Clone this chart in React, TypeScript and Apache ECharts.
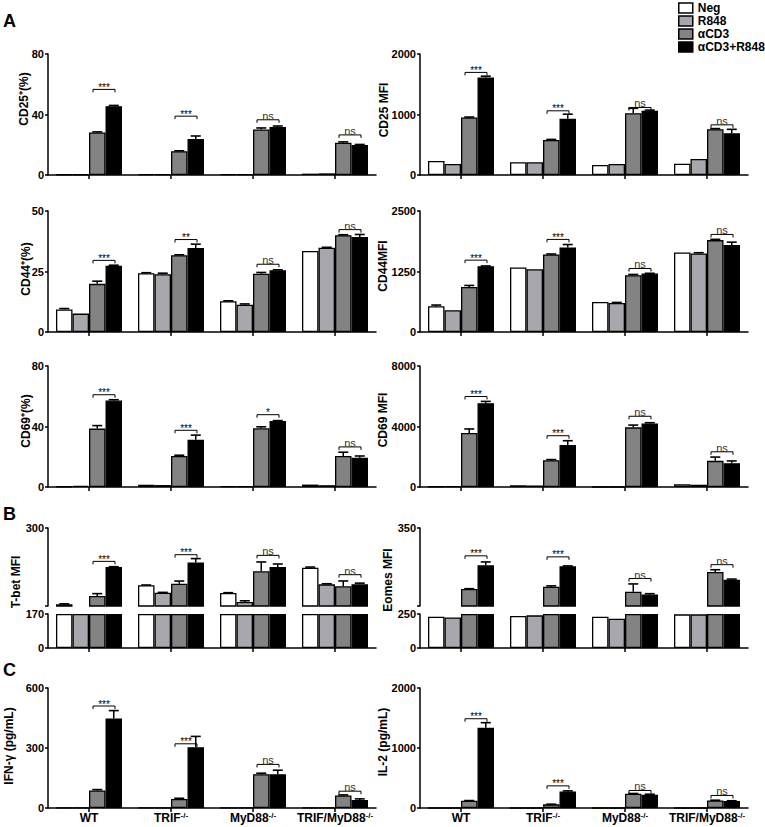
import React, { useEffect, useRef } from 'react';
import * as echarts from 'echarts';

const FONT = '"Liberation Sans", Arial, Helvetica, sans-serif';

const CATEGORIES = ['WT', 'TRIF-/-', 'MyD88-/-', 'TRIF/MyD88-/-'];
const TREATMENTS = ['Neg', 'R848', 'αCD3', 'αCD3+R848'];
const COLORS = ['#ffffff', '#a7a7ad', '#838383', '#000000'];

// Each panel: rows = [Neg, R848, αCD3, αCD3+R848], columns = CATEGORIES
const CD25_PCT = [
  [0.3, 0.6, 0.4, 0.9],
  [0.3, 0.4, 0.6, 1.1],
  [28.1, 15.7, 30.1, 21.3],
  [45.5, 23.8, 31.8, 19.8],
];
const CD25_PCT_ERR = [[0, 0, 0, 0], [0, 0, 0, 0], [0.4, 0.3, 1.0, 0.6], [0.5, 2.0, 0.6, 0.4]];
const CD25_PCT_SIG = [56.6, 38.9, 36.5, 26.5];
const CD25_PCT_SIG_TXT = ['***', '***', 'ns', 'ns'];

const CD25_MFI = [
  [232, 210, 166, 188],
  [182, 210, 182, 265],
  [950, 580, 1022, 757],
  [1613, 928, 1061, 690],
];
const CD25_MFI_ERR = [[0, 0, 0, 0], [0, 0, 0, 0], [8, 8, 80, 10], [20, 77, 12, 65]];
const CD25_MFI_SIG = [1696, 1061, 1116, 829];
const CD25_MFI_SIG_TXT = ['***', '***', 'ns', 'ns'];

const CD44_PCT = [
  [9.3, 24.3, 12.7, 33.5],
  [7.6, 23.9, 11.3, 34.8],
  [19.9, 31.7, 24.1, 40.0],
  [27.4, 34.7, 25.5, 39.3],
];
const CD44_PCT_ERR = [[0.4, 0.2, 0.2, 0], [0, 0.4, 0.3, 0.2], [1.1, 0.2, 0.5, 0.2], [0.2, 1.6, 0.2, 1.0]];
const CD44_PCT_SIG = [29.6, 38.2, 28.0, 42.3];
const CD44_PCT_SIG_TXT = ['***', '**', 'ns', 'ns'];

const CD44_MFI = [
  [532, 1333, 622, 1644],
  [449, 1298, 601, 1623],
  [932, 1602, 1174, 1899],
  [1360, 1747, 1208, 1796],
];
const CD44_MFI_ERR = [[25, 0, 0, 0], [0, 0, 10, 15], [30, 10, 15, 15], [5, 60, 5, 60]];
const CD44_MFI_SIG = [1485, 1913, 1312, 2016];
const CD44_MFI_SIG_TXT = ['***', '***', 'ns', 'ns'];

const CD69_PCT = [
  [0.3, 1.5, 0.4, 1.6],
  [0.8, 1.3, 0.4, 1.2],
  [38.6, 20.5, 38.8, 20.5],
  [57.2, 31.3, 43.6, 19.3],
];
const CD69_PCT_ERR = [[0, 0, 0, 0], [0, 0, 0, 0], [2, 0.5, 1, 2.5], [0.5, 3, 0.3, 1.2]];
const CD69_PCT_SIG = [61, 37.5, 47.8, 26.5];
const CD69_PCT_SIG_TXT = ['***', '***', '*', 'ns'];

const CD69_MFI = [
  [30, 120, 0, 180],
  [40, 100, 0, 150],
  [3568, 1773, 3944, 1728],
  [5540, 2770, 4200, 1573],
];
const CD69_MFI_ERR = [[0, 0, 0, 0], [0, 0, 0, 0], [270, 40, 150, 250], [120, 290, 50, 150]];
const CD69_MFI_SIG = [5983, 3390, 4676, 2327];
const CD69_MFI_SIG_TXT = ['***', '***', 'ns', 'ns'];

const TBET_MFI = [
  [172.8, 204.5, 191.7, 233.9],
  [170, 192.2, 176.7, 206.1],
  [186.7, 207.2, 227.8, 202.8],
  [235, 242.3, 235, 206.1],
];
const TBET_MFI_ERR = [[0.8, 0.5, 0.5, 1], [0, 0.5, 2, 1], [3.9, 4.4, 15.6, 8.9], [0.5, 6.7, 5, 2]];
const TBET_MFI_SIG = [244.4, 255.5, 254.4, 222.2];
const TBET_MFI_SIG_TXT = ['***', '***', 'ns', 'ns'];

const EOMES_MFI = [
  [230, 235, 230, 247.5],
  [225, 240, 215, 247.5],
  [271.7, 274.8, 268.3, 293.5],
  [302.2, 300.9, 264.8, 283.5],
];
const EOMES_MFI_ERR = [[0, 0, 0, 0], [0, 0, 0, 0], [0.5, 1, 10, 3], [4.3, 0.5, 1, 1]];
const EOMES_MFI_SIG = [314.3, 313, 285.2, 303];
const EOMES_MFI_SIG_TXT = ['***', '***', 'ns', 'ns'];

const IFNG = [
  [2, 2, 1, 2],
  [2, 2, 1, 2],
  [88, 45.6, 169, 62.5],
  [448, 304, 169, 40.6],
];
const IFNG_ERR = [[0, 0, 0, 0], [0, 0, 0, 0], [4, 3, 5, 3], [39, 54, 20, 5]];
const IFNG_SIG = [510, 321, 218, 84];
const IFNG_SIG_TXT = ['***', '***', 'ns', 'ns'];

const IL2 = [
  [0, 0, 0, 0],
  [0, 0, 0, 0],
  [121, 60.6, 237, 127],
  [1339, 275.5, 220, 116],
];
const IL2_ERR = [[0, 0, 0, 0], [0, 0, 0, 0], [3, 3, 5, 3], [83, 10, 10, 5]];
const IL2_SIG = [1488, 369, 292, 209];
const IL2_SIG_TXT = ['***', '***', 'ns', 'ns'];

// ---------- layout ----------
const PANEL_W = 328;
const COL_LEFT = [48, 420];
const BW = 16.5;
const ROWS: any[] = [
  { top: 54, h: 121 },
  { top: 211, h: 121 },
  { top: 366, h: 121 },
  { brk: true, upTop: 528, upH: 78, loTop: 614, loH: 34 },
  { top: 688, h: 120 },
];

const PANELS: any[] = [
  { row: 0, col: 0, name: 'CD25⁺(%)', nx: 24, ny: 99, max: 80, interval: 40, v: CD25_PCT, e: CD25_PCT_ERR, s: CD25_PCT_SIG, t: CD25_PCT_SIG_TXT },
  { row: 0, col: 1, name: 'CD25 MFI', nx: 384, ny: 110, max: 2000, interval: 1000, v: CD25_MFI, e: CD25_MFI_ERR, s: CD25_MFI_SIG, t: CD25_MFI_SIG_TXT },
  { row: 1, col: 0, name: 'CD44⁺(%)', nx: 26, ny: 269, max: 50, interval: 25, v: CD44_PCT, e: CD44_PCT_ERR, s: CD44_PCT_SIG, t: CD44_PCT_SIG_TXT },
  { row: 1, col: 1, name: 'CD44MFI', nx: 383, ny: 266, max: 2500, interval: 1250, v: CD44_MFI, e: CD44_MFI_ERR, s: CD44_MFI_SIG, t: CD44_MFI_SIG_TXT },
  { row: 2, col: 0, name: 'CD69⁺(%)', nx: 26, ny: 421, max: 80, interval: 40, v: CD69_PCT, e: CD69_PCT_ERR, s: CD69_PCT_SIG, t: CD69_PCT_SIG_TXT },
  { row: 2, col: 1, name: 'CD69 MFI', nx: 383, ny: 420, max: 8000, interval: 4000, v: CD69_MFI, e: CD69_MFI_ERR, s: CD69_MFI_SIG, t: CD69_MFI_SIG_TXT },
  { row: 3, col: 0, name: 'T-bet MFI', nx: 16, ny: 582, brkAt: 170, max: 300, v: TBET_MFI, e: TBET_MFI_ERR, s: TBET_MFI_SIG, t: TBET_MFI_SIG_TXT },
  { row: 3, col: 1, name: 'Eomes MFI', nx: 388, ny: 580, brkAt: 250, max: 350, v: EOMES_MFI, e: EOMES_MFI_ERR, s: EOMES_MFI_SIG, t: EOMES_MFI_SIG_TXT },
  { row: 4, col: 0, name: 'IFN-γ (pg/mL)', nx: 9, ny: 746, max: 600, interval: 300, v: IFNG, e: IFNG_ERR, s: IFNG_SIG, t: IFNG_SIG_TXT, labels: true },
  { row: 4, col: 1, name: 'IL-2 (pg/mL)', nx: 383, ny: 742, max: 2000, interval: 1000, v: IL2, e: IL2_ERR, s: IL2_SIG, t: IL2_SIG_TXT, labels: true },
];

const LINE = { color: '#000', width: 1.5 };

function renderErr(params: any, api: any) {
  const cat = api.value(0);
  const si = api.value(1);
  const v = api.value(2);
  const e = api.value(3);
  const base = api.coord([cat, v]);
  const top = api.coord([cat, v + e]);
  const x = base[0] + (si - 1.5) * BW;
  return {
    type: 'group',
    children: [
      { type: 'line', shape: { x1: x, y1: base[1], x2: x, y2: top[1] }, style: { stroke: '#000', lineWidth: 1.5 } },
      { type: 'line', shape: { x1: x - 5, y1: top[1], x2: x + 5, y2: top[1] }, style: { stroke: '#000', lineWidth: 1.6 } },
    ],
  };
}

function makeBracketRenderer(labels: string[]) {
  return (params: any, api: any) => {
    const cat = api.value(0);
    const y = api.value(1);
    const lab = labels[params.dataIndex];
    const p = api.coord([cat, y]);
    const x1 = p[0] + 4;
    const x2 = p[0] + 26;
    const yy = p[1];
    const star = lab.indexOf('*') >= 0;
    return {
      type: 'group',
      children: [
        {
          type: 'polyline',
          shape: { points: [[x1, yy + 3], [x1, yy], [x2, yy], [x2, yy + 3]] },
          style: { stroke: '#000', fill: null, lineWidth: 1 },
        },
        {
          type: 'text',
          x: (x1 + x2) / 2,
          y: star ? yy - 7 : yy + 1.5,
          style: {
            text: lab,
            align: 'center',
            verticalAlign: star ? 'top' : 'bottom',
            fontSize: star ? 10 : 11,
            fontFamily: FONT,
            fill: star ? '#000' : '#333',
            stroke: null,
          },
        },
      ],
    };
  };
}

function xLabelFormatter(v: string) {
  const m = v.match(/^(.*?)(-\/-)$/);
  return m ? `{a|${m[1]}}{s|${m[2]}}` : `{a|${v}}`;
}

function buildOption() {
  const grid: any[] = [];
  const xAxis: any[] = [];
  const yAxis: any[] = [];
  const series: any[] = [];
  const graphic: any[] = [];

  const addGrid = (left: number, top: number, height: number) => {
    grid.push({ left, top, width: PANEL_W, height, containLabel: false });
    return grid.length - 1;
  };
  const addX = (gi: number, show: boolean, labels: boolean) => {
    xAxis.push({
      gridIndex: gi,
      type: 'category',
      data: CATEGORIES,
      show,
      axisLine: { show: true, lineStyle: LINE },
      axisTick: { show: true, alignWithLabel: true, length: 4, lineStyle: LINE },
      axisLabel: {
        show: labels,
        interval: 0,
        margin: 3,
        formatter: xLabelFormatter,
        rich: {
          a: { fontSize: 12, fontWeight: 'bold', fontFamily: FONT, color: '#000', lineHeight: 14 },
          s: { fontSize: 8, fontWeight: 'bold', fontFamily: FONT, color: '#000', lineHeight: 9, verticalAlign: 'top' },
        },
      },
      splitLine: { show: false },
    });
    return xAxis.length - 1;
  };
  const addY = (gi: number, min: number, max: number, interval: number, showLabel?: (v: number) => boolean) => {
    yAxis.push({
      gridIndex: gi,
      type: 'value',
      min,
      max,
      interval,
      axisLine: { show: true, lineStyle: LINE },
      axisTick: { show: true, length: 3, lineStyle: LINE },
      axisLabel: {
        margin: 4,
        fontSize: 11,
        fontWeight: 'bold',
        fontFamily: FONT,
        color: '#000',
        formatter: (val: number) => (showLabel && !showLabel(val) ? '' : String(val)),
      },
      splitLine: { show: false },
    });
    return yAxis.length - 1;
  };
  const addBars = (xi: number, yi: number, arrs: any[][]) => {
    arrs.forEach((d, si) => {
      series.push({
        type: 'bar',
        name: TREATMENTS[si],
        xAxisIndex: xi,
        yAxisIndex: yi,
        data: d,
        barWidth: BW,
        barGap: '0%',
        silent: true,
        itemStyle: { color: COLORS[si], borderColor: '#000', borderWidth: 1.3 },
      });
    });
  };
  const addErr = (xi: number, yi: number, data: any[]) => {
    series.push({
      type: 'custom',
      xAxisIndex: xi,
      yAxisIndex: yi,
      silent: true,
      z: 5,
      encode: { x: 0, y: 2 },
      data,
      renderItem: renderErr,
    });
  };
  const addSig = (xi: number, yi: number, sig: number[], txt: string[]) => {
    series.push({
      type: 'custom',
      xAxisIndex: xi,
      yAxisIndex: yi,
      silent: true,
      z: 6,
      encode: { x: 0, y: 1 },
      data: sig.map((y, ci) => [ci, y]),
      renderItem: makeBracketRenderer(txt),
    });
  };

  PANELS.forEach((p) => {
    const left = COL_LEFT[p.col];
    const r = ROWS[p.row];
    if (!r.brk) {
      const gi = addGrid(left, r.top, r.h);
      const xi = addX(gi, true, !!p.labels);
      const yi = addY(gi, 0, p.max, p.interval);
      addBars(xi, yi, p.v);
      const errData: any[] = [];
      p.v.forEach((arr: number[], si: number) =>
        arr.forEach((val, ci) => {
          const e = p.e[si][ci];
          if (e > 0) errData.push([ci, si, val, e]);
        })
      );
      addErr(xi, yi, errData);
      addSig(xi, yi, p.s, p.t);
    } else {
      const b = p.brkAt;
      const gU = addGrid(left, r.upTop, r.upH);
      const xU = addX(gU, false, false);
      const yU = addY(gU, b, p.max, p.max - b, (val) => val === p.max);
      const gL = addGrid(left, r.loTop, r.loH);
      const xL = addX(gL, true, false);
      const yL = addY(gL, 0, b, b);
      addBars(xU, yU, p.v.map((arr: number[]) => arr.map((val) => (val > b ? val : '-'))));
      addBars(xL, yL, p.v.map((arr: number[]) => arr.map((val) => Math.min(val, b))));
      const errData: any[] = [];
      p.v.forEach((arr: number[], si: number) =>
        arr.forEach((val, ci) => {
          const e = p.e[si][ci];
          if (e > 0 && val > b) errData.push([ci, si, val, e]);
        })
      );
      addErr(xU, yU, errData);
      addSig(xU, yU, p.s, p.t);
    }
    graphic.push({
      type: 'text',
      x: p.nx,
      y: p.ny,
      rotation: Math.PI / 2,
      style: {
        text: p.name,
        align: 'center',
        verticalAlign: 'middle',
        fontSize: 12,
        fontWeight: 'bold',
        fontFamily: FONT,
        fill: '#000',
      },
    });
  });

  [['A', 21], ['B', 514], ['C', 670]].forEach(([t, y]) => {
    graphic.push({
      type: 'text',
      x: 3,
      y: y as number,
      style: { text: t as string, align: 'left', verticalAlign: 'middle', fontSize: 18, fontWeight: 'bold', fontFamily: FONT, fill: '#000' },
    });
  });

  return {
    animation: false,
    backgroundColor: '#fff',
    grid,
    xAxis,
    yAxis,
    series,
    graphic,
    legend: {
      data: TREATMENTS,
      orient: 'vertical',
      left: 678,
      top: 2,
      padding: 0,
      itemWidth: 14,
      itemHeight: 10,
      itemGap: 1,
      icon: 'rect',
      selectedMode: false,
      itemStyle: { borderColor: '#000', borderWidth: 1.5 },
      textStyle: { fontFamily: FONT, fontWeight: 'bold', fontSize: 12, color: '#000', lineHeight: 10, padding: [0, 0, 0, 0] },
    },
  };
}

export default function App() {
  const ref = useRef<HTMLDivElement>(null);
  useEffect(() => {
    if (!ref.current) return;
    const chart = echarts.init(ref.current, undefined, { renderer: 'svg' });
    chart.setOption(buildOption() as any);
    return () => chart.dispose();
  }, []);
  return (
    <div
      ref={ref}
      style={{ position: 'fixed', left: 0, top: 0, width: 765, height: 827, background: '#fff' }}
    />
  );
}
